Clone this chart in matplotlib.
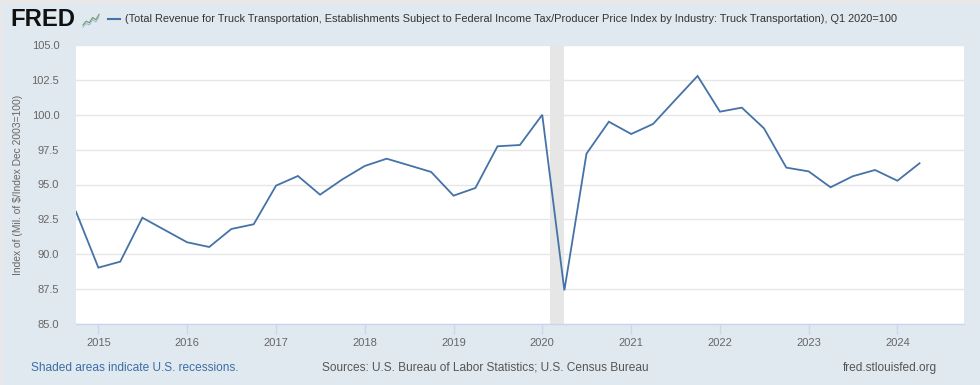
"""FRED-style chart: truck transportation revenue / PPI, Q1 2020=100."""
import matplotlib
matplotlib.use("Agg")
import matplotlib.pyplot as plt
import matplotlib.dates as mdates
import matplotlib.patches as mpatches
import pandas as pd

plt.rcParams["font.family"] = ["Liberation Sans", "DejaVu Sans"]

# ── data (quarterly) ────────────────────────────────────────────────────────
QUARTERS = pd.date_range("2014-10-01", "2024-04-01", freq="QS")
VALUES = [
    93.05,                                # 2014 Q4
    89.04, 89.47, 92.62, 91.74,           # 2015
    90.86, 90.52, 91.81, 92.15,           # 2016
    94.92, 95.61, 94.27, 95.37,           # 2017
    96.33, 96.85, 96.38, 95.90,           # 2018
    94.20, 94.75, 97.74, 97.83,           # 2019
    100.00, 87.41, 97.21, 99.50,          # 2020
    98.62, 99.34, 101.06, 102.78,         # 2021
    100.22, 100.51, 99.03, 96.21,         # 2022
    95.94, 94.80, 95.59, 96.04,           # 2023
    95.27, 96.52,                         # 2024
]
RECESSIONS = [("2020-02-01", "2020-04-01")]
YTICKS = [85.0, 87.5, 90.0, 92.5, 95.0, 97.5, 100.0, 102.5, 105.0]
XTICK_YEARS = list(range(2015, 2025))

TITLE = ("(Total Revenue for Truck Transportation, Establishments Subject to Federal "
         "Income Tax/Producer Price Index by Industry: Truck Transportation), Q1 2020=100")
YLABEL = "Index of (Mil. of $/Index Dec 2003=100)"

# FRED logo sparkline (decoration)
ICON_Y = [0.2, 0.45, 0.35, 0.7, 0.55, 0.9]

BG = "#e1e9f0"
LINE = "#4572a7"
GRID = "#e6e6e6"
AXIS = "#ccd6eb"
TEXT = "#333333"
TICKTXT = "#666666"

# ── figure ──────────────────────────────────────────────────────────────────
fig = plt.figure(figsize=(9.8, 3.85), dpi=100, facecolor=BG)
ax = fig.add_axes([76 / 980, 1 - 324 / 385, 888 / 980, 279 / 385])
ax.set_facecolor("white")

for start, end in RECESSIONS:
    ax.axvspan(pd.Timestamp(start), pd.Timestamp(end), color="#e6e6e6", lw=0, zorder=1)

ax.plot(QUARTERS, VALUES, color=LINE, lw=1.3, zorder=3, solid_joinstyle="miter")

ax.set_xlim(pd.Timestamp("2014-10-01"), pd.Timestamp("2024-10-01"))
ax.set_ylim(85, 105)
ax.set_yticks(YTICKS)
ax.set_yticklabels([f"{v:.1f}" for v in YTICKS], fontsize=8, color=TICKTXT)
ax.set_xticks([pd.Timestamp(f"{y}-01-01") for y in XTICK_YEARS])
ax.xaxis.set_major_formatter(mdates.DateFormatter("%Y"))
ax.tick_params(axis="x", length=7, width=1, color=AXIS, labelsize=8,
               labelcolor=TICKTXT, pad=3)
ax.tick_params(axis="y", length=0, pad=12)
ax.grid(axis="y", color=GRID, lw=1, zorder=0)
ax.set_axisbelow(True)
for side in ("top", "right", "left"):
    ax.spines[side].set_visible(False)
ax.spines["bottom"].set_color(AXIS)
ax.spines["bottom"].set_linewidth(1)

fig.text(18 / 980, 1 - 185 / 385, YLABEL, rotation=90, ha="center", va="center",
         fontsize=7.4, color=TICKTXT)

# ── frame strips and header ─────────────────────────────────────────────────
fig.patches.append(mpatches.Rectangle((0, 1 - 4 / 385), 1, 4 / 385, transform=fig.transFigure,
                                      color="#e8e8e8", lw=0))
fig.patches.append(mpatches.Rectangle((0, 0), 3 / 980, 1, transform=fig.transFigure,
                                      color="#e8e8e8", lw=0))
fig.text(10 / 980, 1 - 20 / 385, "FRED", fontsize=17.2, fontweight="bold",
         color="#111111", va="center", ha="left")
icon = fig.add_axes([82 / 980, 1 - 28 / 385, 18 / 980, 15 / 385])
icon.set_facecolor("#dde3e8")
icon.plot(range(len(ICON_Y)), ICON_Y, color="#7a9e6a", lw=0.9)
icon.plot(range(len(ICON_Y)), [v - 0.15 for v in ICON_Y], color="#9ab6d8", lw=0.7)
icon.set_xlim(-0.3, len(ICON_Y) - 0.7)
icon.set_ylim(0, 1)
icon.axis("off")

fig.lines.append(plt.Line2D([108 / 980, 120 / 980], [1 - 19 / 385] * 2,
                            transform=fig.transFigure, color=LINE, lw=1.5))
fig.text(125 / 980, 1 - 19 / 385, TITLE, fontsize=7.9, color=TEXT,
         va="center", ha="left")

# ── footer ──────────────────────────────────────────────────────────────────
fig.text(31 / 980, 1 - 368 / 385, "Shaded areas indicate U.S. recessions.",
         fontsize=8.6, color="#3b6ea5", va="center", ha="left")
fig.text(322 / 980, 1 - 368 / 385, "Sources: U.S. Bureau of Labor Statistics; U.S. Census Bureau",
         fontsize=8.6, color="#555555", va="center", ha="left")
fig.text(937 / 980, 1 - 368 / 385, "fred.stlouisfed.org",
         fontsize=8.6, color="#555555", va="center", ha="right")

fig.savefig("out.png", dpi=100, facecolor=BG)
plt.close(fig)
